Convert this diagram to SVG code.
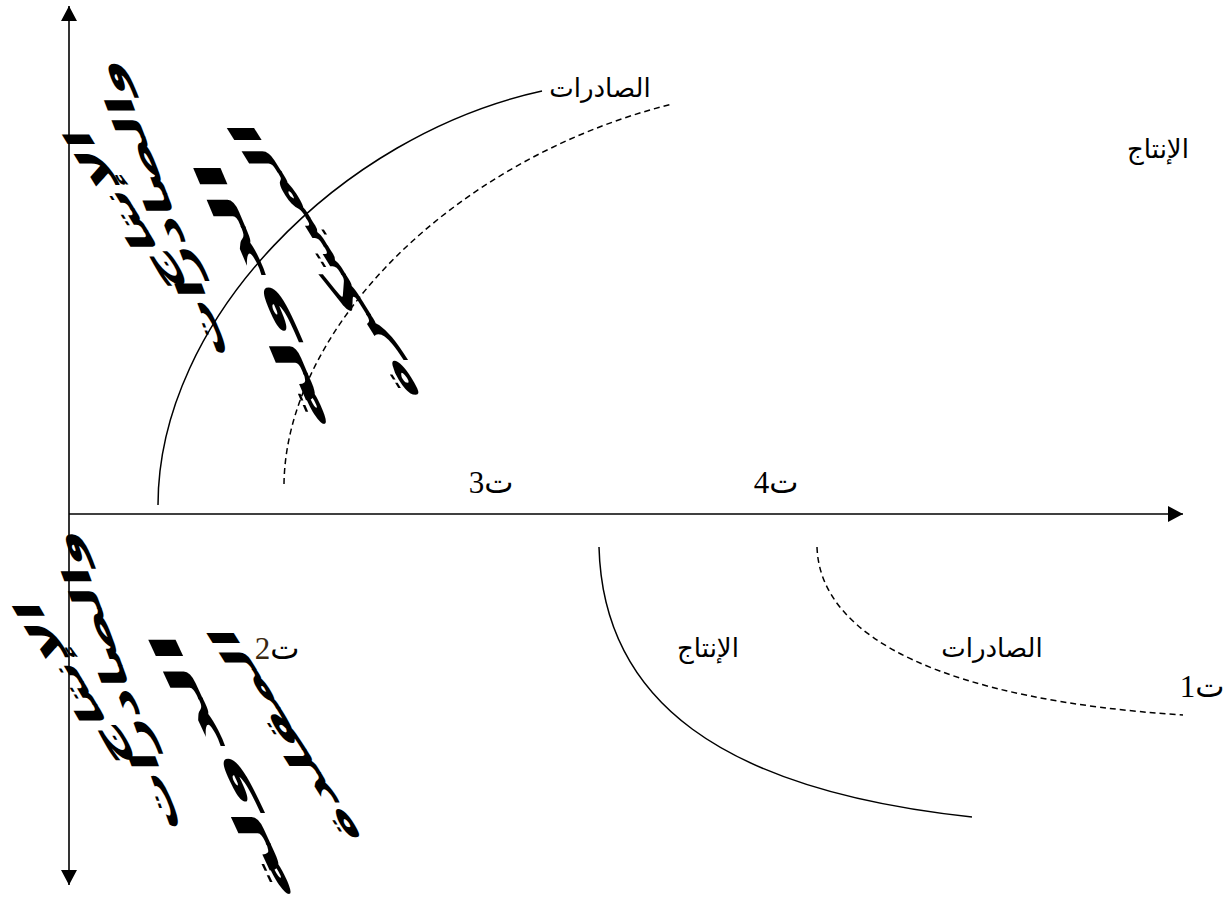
<svg xmlns="http://www.w3.org/2000/svg" width="1226" height="908" viewBox="0 0 1226 908">
<style>
.ax{stroke:#000;stroke-width:1.6;fill:none}
.sol{stroke:#000;stroke-width:1.5;fill:none}
.dsh{stroke:#000;stroke-width:1.5;fill:none;stroke-dasharray:6 4}
.lbl{font-family:"DejaVu Sans",sans-serif;font-size:26px;fill:#000}
.tl{font-family:"Liberation Serif","DejaVu Sans",serif;font-size:31px;fill:#000}
.vt{font-family:"DejaVu Sans",sans-serif;font-size:36px;font-weight:bold;fill:#000}
</style>
<defs>
<marker id="arr" markerWidth="16" markerHeight="16" refX="15" refY="8" orient="auto-start-reverse" markerUnits="userSpaceOnUse">
<path d="M0,0 L15,8 L0,16 z" fill="#000"/>
</marker>
</defs>
<g id="connectors">
<path class="ax" d="M69,885 L69,6" marker-start="url(#arr)" marker-end="url(#arr)"/>
<path class="ax" d="M69,514 L1183,514" marker-end="url(#arr)"/>
<path id="exp-top" class="sol" d="M158,505 C158,320 340,135 542,91"/>
<path id="prod-top" class="dsh" d="M284,484 C286,330 450,160 672,104"/>
<path id="prod-bot" class="sol" d="M599,547 C603,700 720,790 972,817"/>
<path id="exp-bot" class="dsh" d="M817,547 C820,640 950,700 1183,715"/>
</g>
<g id="labels">
<text class="lbl" x="600" y="97" text-anchor="middle">الصادرات</text>
<text class="lbl" x="1158" y="158" text-anchor="middle">الإنتاج</text>
<text class="lbl" x="708" y="657" text-anchor="middle">الإنتاج</text>
<text class="lbl" x="992" y="657" text-anchor="middle">الصادرات</text>
<text class="tl" x="491" y="493" text-anchor="middle">ت3</text>
<text class="tl" x="776" y="493" text-anchor="middle">ت4</text>
<text class="tl" x="277" y="659" text-anchor="middle">ت<tspan fill="#3a2810">2</tspan></text>
<text class="tl" x="1202" y="697" text-anchor="middle">ت1</text>
</g>
<g id="vtext-top">
<text class="vt" transform="translate(123,210) skewX(31.5) rotate(-90)" text-anchor="middle" dominant-baseline="central" textLength="160" lengthAdjust="spacingAndGlyphs">الإنتاج</text>
<text class="vt" transform="translate(160,208) skewX(21) rotate(-90)" text-anchor="middle" dominant-baseline="central" textLength="297" lengthAdjust="spacingAndGlyphs">والصادرات</text>
<text class="vt" transform="translate(262,295) skewX(23) rotate(-90)" text-anchor="middle" dominant-baseline="central" textLength="270" lengthAdjust="spacingAndGlyphs">الدولة</text>
<text class="vt" transform="translate(324,260) skewX(32) rotate(-90)" text-anchor="middle" dominant-baseline="central" textLength="276" lengthAdjust="spacingAndGlyphs">المبتكرة</text>
</g>
<g id="vtext-bottom">
<text class="vt" transform="translate(72,683) skewX(30.5) rotate(-90)" text-anchor="middle" dominant-baseline="central" textLength="163" lengthAdjust="spacingAndGlyphs">الإنتاج</text>
<text class="vt" transform="translate(115,680) skewX(20) rotate(-90)" text-anchor="middle" dominant-baseline="central" textLength="300" lengthAdjust="spacingAndGlyphs">والصادرات</text>
<text class="vt" transform="translate(222,766) skewX(25) rotate(-90)" text-anchor="middle" dominant-baseline="central" textLength="268" lengthAdjust="spacingAndGlyphs">الدولة</text>
<text class="vt" transform="translate(284,734) skewX(32) rotate(-90)" text-anchor="middle" dominant-baseline="central" textLength="212" lengthAdjust="spacingAndGlyphs">المقلدة</text>
</g>
</svg>
